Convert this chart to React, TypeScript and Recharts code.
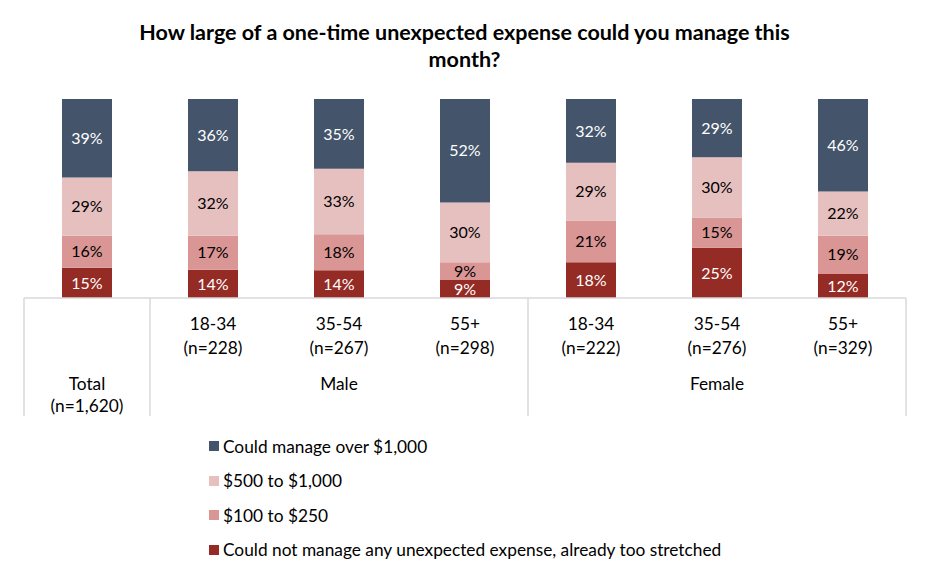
import React from 'react';
import { BarChart, Bar, XAxis, YAxis, LabelList } from 'recharts';

const categories = ['Total', '18-34', '35-54', '55+', '18-34', '35-54', '55+'];
const sampleSizes = ['(n=1,620)', '(n=228)', '(n=267)', '(n=298)', '(n=222)', '(n=276)', '(n=329)'];
const groupLabels = ['Male', 'Female'];

const cannotManage = [15, 14, 14, 9, 18, 25, 12];
const from100to250 = [16, 17, 18, 9, 21, 15, 19];
const from500to1000 = [29, 32, 33, 30, 29, 30, 22];
const over1000 = [39, 36, 35, 52, 32, 29, 46];

const series = [
  { key: 'cannot', name: 'Could not manage any unexpected expense, already too stretched', color: '#952b25', text: '#ffffff' },
  { key: 'low', name: '$100 to $250', color: '#d99694', text: '#000000' },
  { key: 'mid', name: '$500 to $1,000', color: '#e6bfbf', text: '#000000' },
  { key: 'high', name: 'Could manage over $1,000', color: '#44546a', text: '#ffffff' },
];

const data = categories.map((c, i) => ({
  id: i,
  label: c,
  cannot: cannotManage[i],
  low: from100to250[i],
  mid: from500to1000[i],
  high: over1000[i],
}));

const FONT = 'Lato, "Noto Sans", sans-serif';
const AXIS_Y = 298;
const BOTTOM_Y = 416;
const BAND = 126;
const LINE = '#d9d9d9';
const FS = 17.3;

const renderTick = (props: any) => {
  const { x, index } = props;
  const half = BAND / 2;
  const t = { textAnchor: 'middle' as const, dominantBaseline: 'central' as const, fontSize: FS, fill: '#000', fontFamily: FONT };
  return (
    <g>
      {index === 0 ? (
        <>
          <text x={x} y={383} {...t}>{categories[0]}</text>
          <text x={x} y={405} {...t}>{sampleSizes[0]}</text>
          <line x1={x - half} x2={x - half} y1={AXIS_Y} y2={BOTTOM_Y} stroke={LINE} strokeWidth={1.5} />
          <line x1={x + half} x2={x + half} y1={AXIS_Y} y2={BOTTOM_Y} stroke={LINE} strokeWidth={1.5} />
        </>
      ) : (
        <>
          <text x={x} y={323} {...t}>{categories[index]}</text>
          <text x={x} y={347} {...t}>{sampleSizes[index]}</text>
        </>
      )}
      {index === 2 && <text x={x} y={383} {...t}>{groupLabels[0]}</text>}
      {index === 5 && <text x={x} y={383} {...t}>{groupLabels[1]}</text>}
      {(index === 3 || index === 6) && (
        <line x1={x + half} x2={x + half} y1={AXIS_Y} y2={BOTTOM_Y} stroke={LINE} strokeWidth={1.5} />
      )}
    </g>
  );
};

const legendOrder = [...series].reverse();

export default function App() {
  return (
    <div style={{ position: 'absolute', left: 0, top: 0, width: 929, height: 579, background: '#fff', fontFamily: FONT }}>
      <div
        style={{
          position: 'absolute',
          left: 0,
          top: 19,
          width: 929,
          textAlign: 'center',
          fontWeight: 'bold',
          fontSize: 21.5,
          lineHeight: '27px',
          color: '#000',
        }}
      >
        How large of a one-time unexpected expense could you manage this
        <br />
        month?
      </div>
      <BarChart
        width={929}
        height={579}
        data={data}
        stackOffset="expand"
        margin={{ top: 99, right: 23, left: 24, bottom: 151 }}
        barSize={50}
      >
        <XAxis
          dataKey="id"
          type="category"
          axisLine={{ stroke: LINE, strokeWidth: 1.5 }}
          tickLine={false}
          tick={renderTick}
          height={130}
          interval={0}
        />
        <YAxis hide domain={[0, 1]} />
        {series.map((s) => (
          <Bar key={s.key} dataKey={s.key} name={s.name} stackId="a" fill={s.color} isAnimationActive={false}>
            <LabelList
              dataKey={s.key}
              position="center"
              formatter={(v: any) => `${v}%`}
              style={{ fill: s.text, fontSize: 16, fontFamily: FONT }}
            />
          </Bar>
        ))}
      </BarChart>
      <div style={{ position: 'absolute', left: 209, top: 429 }}>
        {legendOrder.map((s) => (
          <div key={s.key} style={{ display: 'flex', alignItems: 'center', height: 34.5, fontSize: FS, color: '#000' }}>
            <span style={{ display: 'inline-block', width: 10, height: 10, background: s.color, marginRight: 4 }} />
            <span>{s.name}</span>
          </div>
        ))}
      </div>
    </div>
  );
}
